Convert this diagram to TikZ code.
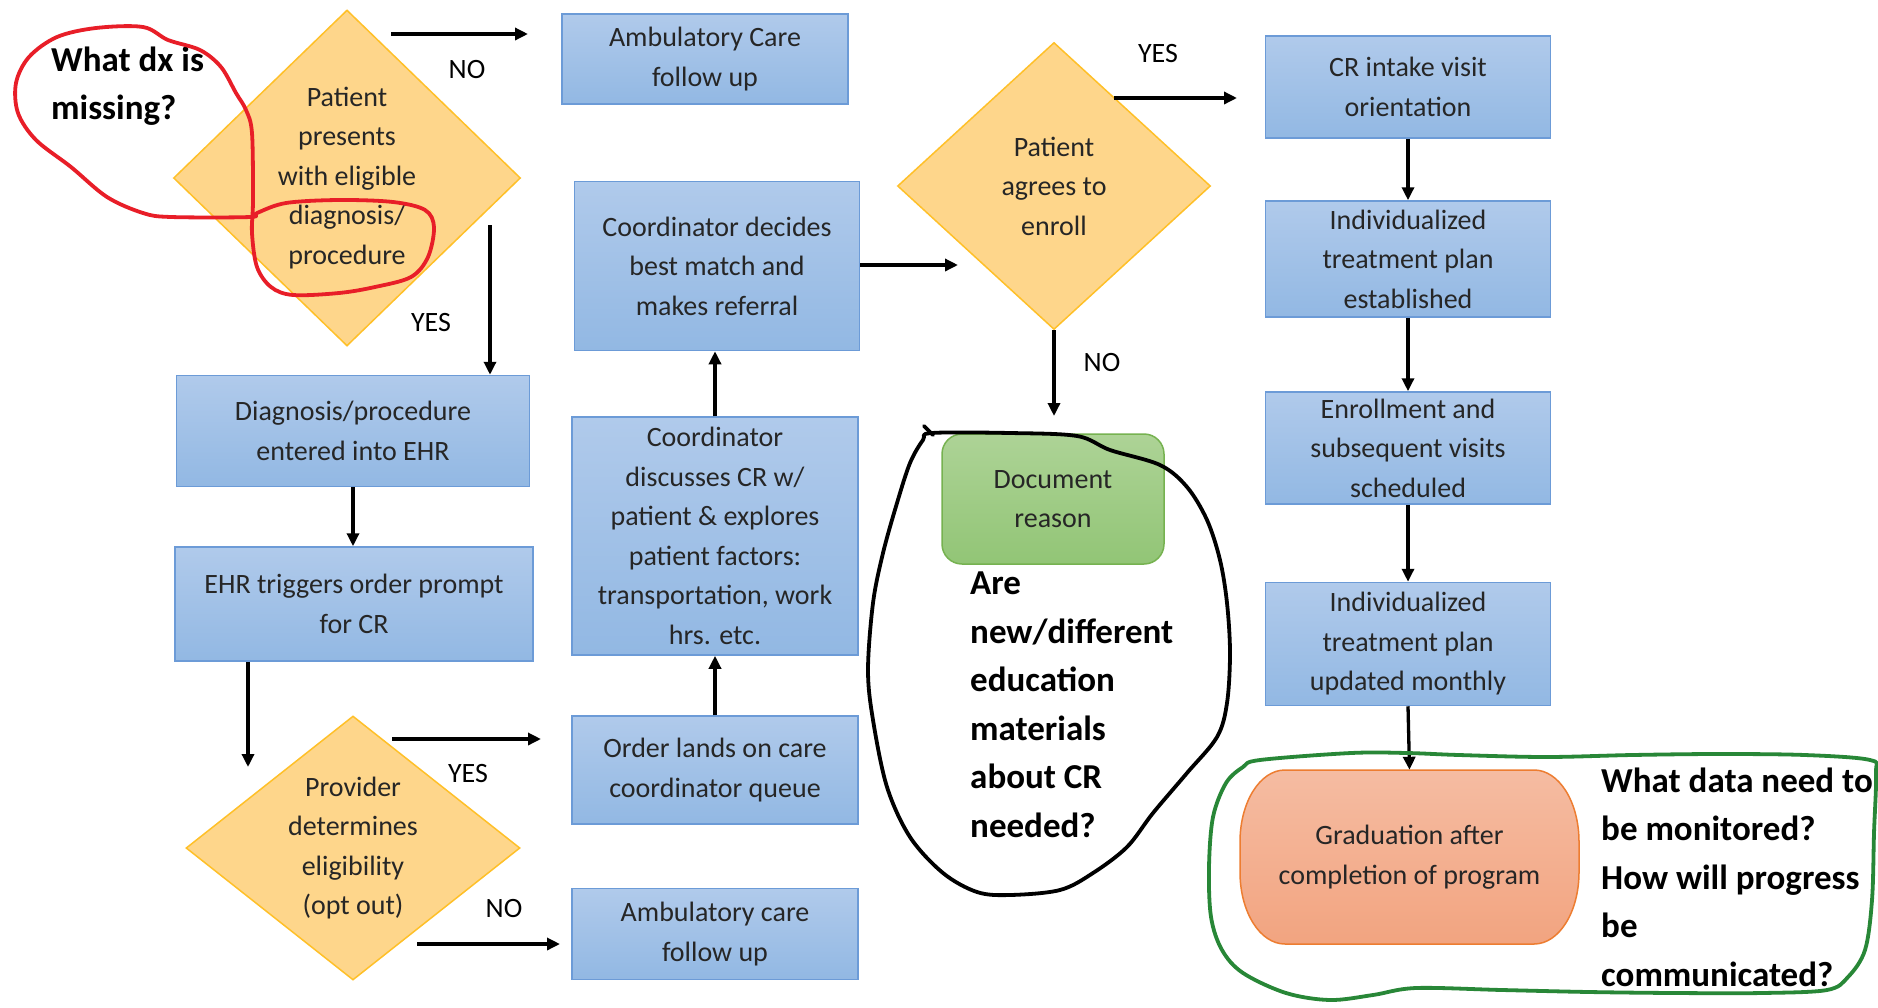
\documentclass[tikz,border=0pt]{standalone}
\usepackage{fontspec}
\setmainfont{Carlito}
\usetikzlibrary{shapes.geometric,arrows.meta}

\definecolor{boxtop}{RGB}{176,202,235}
\definecolor{boxbot}{RGB}{146,184,227}
\definecolor{boxline}{RGB}{108,155,215}
\definecolor{decfill}{RGB}{254,214,139}
\definecolor{decline}{RGB}{255,192,40}
\definecolor{greentop}{RGB}{173,211,150}
\definecolor{greenbot}{RGB}{146,197,118}
\definecolor{greenline}{RGB}{118,178,80}
\definecolor{gradtop}{RGB}{245,188,162}
\definecolor{gradbot}{RGB}{242,164,128}
\definecolor{gradline}{RGB}{237,125,49}
\definecolor{inktext}{RGB}{38,38,38}
\definecolor{redpen}{RGB}{232,30,40}
\definecolor{greenpen}{RGB}{40,135,55}

\tikzset{
  boxtext/.style={font=\fontsize{28}{39.5}\selectfont, text=inktext, align=center, inner sep=0pt},
  procbox/.style={boxtext, draw=boxline, line width=1.5pt, top color=boxtop, bottom color=boxbot},
  decision/.style={diamond, draw=decline, line width=1.5pt, fill=decfill, inner sep=0pt},
  flow/.style={line width=3.3pt, -{Triangle[length=13pt,width=12pt]}},
  answer/.style={font=\fontsize{28}{34}\selectfont, text=black, inner sep=0pt},
  note/.style={font=\fontsize{35}{48.5}\selectfont\bfseries, text=black, align=left, inner sep=0pt},
  pen/.style={line width=3.8pt, line join=round, line cap=round}
}

\begin{document}
\begin{tikzpicture}[x=1pt,y=-1pt]
\useasboundingbox (0,0) rectangle (1878,1007);
\fill[white] (0,0) rectangle (1878,1007);

% decisions
\node[decision, minimum width=347, minimum height=336] (elig) at (347,178) {};
\node[boxtext] (eligt) at (347,178) {Patient\\presents\\with eligible\\diagnosis/\\procedure};
\node[decision, minimum width=334, minimum height=264] (prov) at (353,848) {};
\node[boxtext] (provt) at (353,848) {Provider\\determines\\eligibility\\(opt out)};
\node[decision, minimum width=313, minimum height=287] (agree) at (1054,186) {};
\node[boxtext] (agreet) at (1054,186) {Patient\\agrees to\\enroll};

% process boxes
\node[procbox, minimum width=286, minimum height=90] (amb1) at (705,59) {Ambulatory Care\\follow up};
\node[procbox, minimum width=353, minimum height=111] (diag) at (353,431) {Diagnosis/procedure\\entered into EHR};
\node[procbox, minimum width=358, minimum height=114] (ehr) at (354,604) {EHR triggers order prompt\\for CR};
\node[procbox, minimum width=286, minimum height=108] (queue) at (715,770) {Order lands on care\\coordinator queue};
\node[procbox, minimum width=286, minimum height=91] (amb2) at (715,934) {Ambulatory care\\follow up};
\node[procbox, minimum width=286, minimum height=238] (discuss) at (715,536) {Coordinator\\discusses CR w/\\patient \& explores\\patient factors:\\transportation, work\\hrs. etc.};
\node[procbox, minimum width=285, minimum height=169] (decide) at (717,266) {Coordinator decides\\best match and\\makes referral};
\node[procbox, minimum width=285, minimum height=102] (intake) at (1408,87) {CR intake visit\\orientation};
\node[procbox, minimum width=285, minimum height=116] (plan) at (1408,259) {Individualized\\treatment plan\\established};
\node[procbox, minimum width=285, minimum height=112] (sched) at (1408,448) {Enrollment and\\subsequent visits\\scheduled};
\node[procbox, minimum width=285, minimum height=123] (update) at (1408,644) {Individualized\\treatment plan\\updated monthly};

% document reason
\node[boxtext, draw=greenline, line width=1.5pt, top color=greentop, bottom color=greenbot,
      rounded corners=20pt, minimum width=222, minimum height=130] (docr) at (1053,499) {Document\\reason};

% graduation terminator
\draw[gradline, line width=1.5pt, top color=gradtop, bottom color=gradbot]
  (1285,770) -- (1534,770) .. controls (1559,770) and (1579,802) .. (1579,842)
  -- (1579,872) .. controls (1579,912) and (1559,944) .. (1534,944)
  -- (1285,944) .. controls (1260,944) and (1240,912) .. (1240,872)
  -- (1240,842) .. controls (1240,802) and (1260,770) .. (1285,770) -- cycle;
\node[boxtext, minimum width=339, minimum height=174] (grad) at (1409.5,857) {Graduation after\\completion of program};

% connectors
\coordinate (n1s) at (391,34);  \coordinate (n1e) at (528,34);
\draw[flow] (n1s) -- (n1e);
\coordinate (y1s) at (490,225);
\draw[flow] (y1s) -- (y1s |- diag.north);
\draw[flow] (diag.south) -- (diag.south |- ehr.north);
\coordinate (p1e) at (248,767);
\draw[flow] (p1e |- ehr.south) -- (p1e);
\coordinate (y2s) at (392,739);  \coordinate (y2e) at (541,739);
\draw[flow] (y2s) -- (y2e);
\coordinate (n2s) at (417,944);  \coordinate (n2e) at (560,944);
\draw[flow] (n2s) -- (n2e);
\draw[flow] (queue.north) -- (queue.north |- discuss.south);
\draw[flow] (discuss.north) -- (discuss.north |- decide.south);
\coordinate (r1e) at (958,265);
\draw[flow] (decide.east |- r1e) -- (r1e);
\coordinate (y3s) at (1114,98);  \coordinate (y3e) at (1237,98);
\draw[flow] (y3s) -- (y3e);
\coordinate (n3e) at (1054,416);
\draw[flow] (agree.south) -- (n3e);
\draw[flow] (intake.south) -- (plan.north);
\draw[flow] (plan.south) -- (sched.north);
\draw[flow] (sched.south) -- (update.north);
\draw[flow] (update.south) -- (grad.north);

% branch labels
\node[answer] (lno1) at (467,70) {NO};
\node[answer] (lyes1) at (431,323) {YES};
\node[answer] (lyes2) at (468,773) {YES};
\node[answer] (lno2) at (504,908) {NO};
\node[answer] (lyes3) at (1158,54) {YES};
\node[answer] (lno3) at (1102,363) {NO};

% handwritten questions
\node[note, anchor=west] (q1) at (51,86) {What dx is\\missing?};
\node[note, anchor=west] (q2) at (970,705) {Are\\new/different\\education\\materials\\about CR\\needed?};
\node[note, anchor=west] (q3) at (1601,877) {What data need to\\be monitored?\\How will progress\\be\\communicated?};

% pen loops
\draw[pen, redpen] plot[smooth cycle, tension=0.55] coordinates {
  (171,217) (143,213) (107,197) (71,167) (36,140) (18,113) (16,83) (29,57) (57,37)
  (96,28) (143,27) (168,40) (200,50) (221,67) (236,93) (246,110) (252,133) (253,200)
  (252,233) (257,267) (271,287) (293,295) (339,293) (375,287) (411,277) (428,257)
  (434,227) (425,210) (393,202) (339,200) (286,203) (257,213) (250,217)};
\draw[pen, black] (924,426) -- (933,435);
\draw[pen, black] plot[smooth cycle, tension=0.55] coordinates {
  (932,433) (1010,433) (1077,436) (1110,450) (1160,465) (1187,487) (1207,520) (1220,560)
  (1227,603) (1230,653) (1227,703) (1217,737) (1187,773) (1153,813) (1127,847) (1093,873)
  (1060,890) (1010,895) (977,892) (943,873) (910,837) (887,787) (873,720) (868,670)
  (873,603) (883,553) (897,503) (910,463) (923,440)};
\draw[pen, greenpen] plot[smooth cycle, tension=0.55] coordinates {
  (1260,760) (1351,753) (1407,753) (1459,755) (1546,757) (1632,755) (1718,754) (1805,755)
  (1870,760) (1876,773) (1874,833) (1872,900) (1865,950) (1848,977) (1827,990) (1762,993)
  (1675,993) (1589,992) (1502,990) (1416,988) (1373,995) (1330,1000) (1286,993) (1243,973)
  (1222,950) (1211,917) (1209,867) (1213,817) (1226,783) (1243,767)};
\end{tikzpicture}
\end{document}
